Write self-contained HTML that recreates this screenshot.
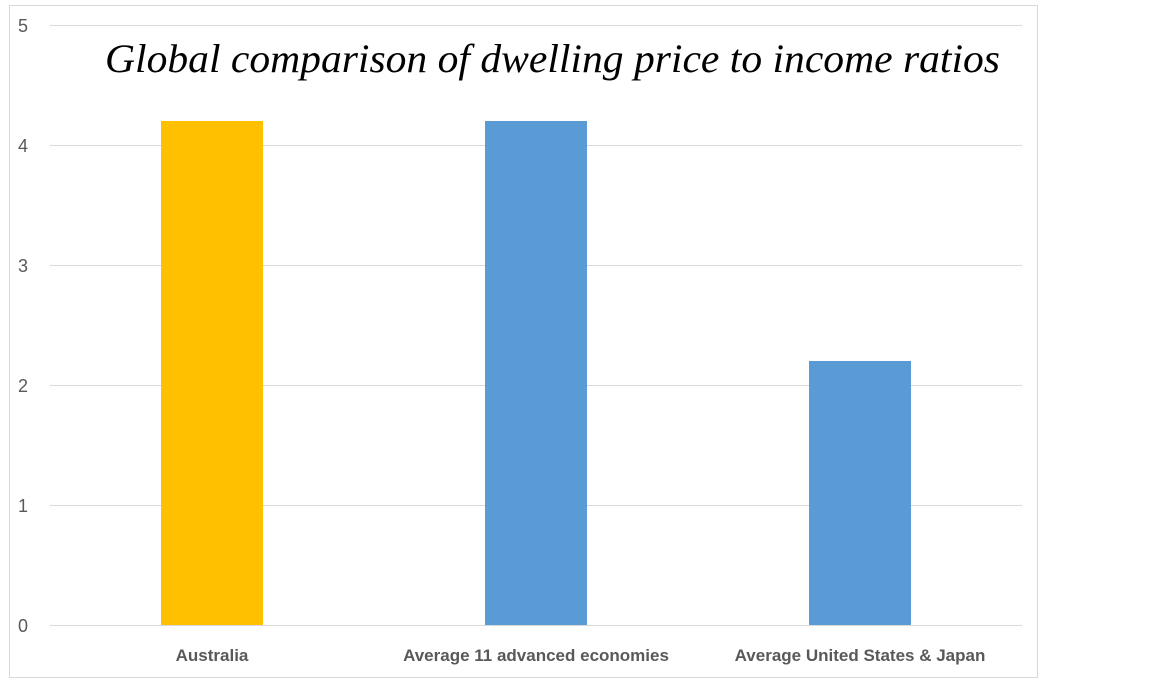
<!DOCTYPE html>
<html><head><meta charset="utf-8"><style>
html,body{margin:0;padding:0;background:#fff;width:1152px;height:683px;overflow:hidden;}
svg{display:block;font-family:"Liberation Sans",sans-serif;}
</style></head><body>
<svg id="chart" width="1152" height="683" viewBox="0 0 1152 683">
<rect x="9.5" y="5.5" width="1028" height="672" fill="#fff" stroke="#d9d9d9"/>
<g id="grid"></g><g id="bars"></g><g id="labels"></g>
<text x="105" y="72" font-family="'Liberation Serif',serif" font-style="italic" font-size="40" fill="#000" textLength="895" lengthAdjust="spacingAndGlyphs">Global comparison of dwelling price to income ratios</text>
</svg>
<script>
const categories=["Australia","Average 11 advanced economies","Average United States & Japan"];
const values=[4.2,4.2,2.2];
const barColors=["#ffc000","#5b9bd5","#5b9bd5"];
const yTicks=[0,1,2,3,4,5];
const NS="http://www.w3.org/2000/svg";
const x0=50,x1=1022,yTop=25,yBot=625,yMax=5;
const y=v=>yBot-(v/yMax)*(yBot-yTop);
const band=(x1-x0)/categories.length;
const xc=i=>x0+band*(i+0.5);
function mk(t,a,p){const e=document.createElementNS(NS,t);for(const k in a)e.setAttribute(k,a[k]);p.appendChild(e);return e;}
const grid=document.getElementById('grid'),bars=document.getElementById('bars'),labels=document.getElementById('labels');
yTicks.forEach(t=>{
 const l=mk('line',{x1:x0,x2:x1,y1:y(t)+0.5,y2:y(t)+0.5,stroke:'#d9d9d9','stroke-width':1},grid);
 
 
 const tx=mk('text',{x:28,y:y(t)+7,'text-anchor':'end','font-size':18,fill:'#595959'},labels);
 tx.textContent=t;
 
 
});
categories.forEach((c,i)=>{
 const w=102;
 const r=mk('rect',{x:xc(i)-w/2,y:y(values[i]),width:w,height:y(0)-y(values[i]),fill:barColors[i]},bars);
 
 
 const tx=mk('text',{x:xc(i),y:661,'text-anchor':'middle','font-size':17,'font-weight':'bold',fill:'#595959'},labels);
 tx.textContent=c;
 
 
});
</script>
</body></html>
